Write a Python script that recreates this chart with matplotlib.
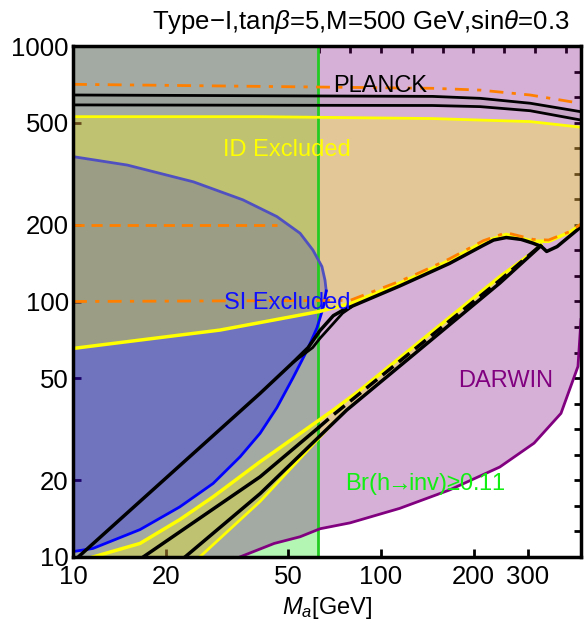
import matplotlib
matplotlib.use("Agg")
import matplotlib.pyplot as plt
import numpy as np

plt.rcParams['font.family'] = ['Liberation Sans', 'DejaVu Sans']
plt.rcParams['mathtext.fontset'] = 'custom'
plt.rcParams['mathtext.rm'] = 'Liberation Sans'
plt.rcParams['mathtext.it'] = 'Liberation Sans:italic'

# --- data (M_a in GeV, M_chi in GeV) ---
mh_half = 62.5

# DARWIN lower edge
darwin_x = [10, 34.8, 45, 54.6, 63.4, 79.3, 115, 167, 243, 314, 384, 436, 446]
darwin_y = [10, 10, 11.3, 12.0, 12.9, 13.6, 15.5, 18.3, 22.5, 27.9, 36.5, 55.7, 85]

# SI excluded region: upper arc and lower edge
si_up_x = [10, 15, 24.6, 35.6, 45.9, 54.6, 60.1, 64.3, 65.8, 66.4]
si_up_y = [369, 342, 294, 250, 215, 185, 159, 137, 121, 110]
si_lo_x = [66.4, 64.9, 62, 57.5, 51.8, 45.9, 40.5, 34.9, 28.5, 22.2, 16.5, 11.6, 10]
si_lo_y = [110, 94.6, 79, 64.3, 50.3, 38.4, 30.5, 24.7, 19.4, 15.7, 12.8, 10.8, 10.5]

# ID excluded region (upper part)
id_top_x = [10, 40.5, 147, 210, 305, 446]
id_top_y = [529, 529, 520, 513, 506, 481]
id_low_x = [10, 30, 63.4, 80, 115, 134, 167, 215, 255, 312, 350, 411, 446]
id_low_y = [65.5, 77.3, 91.5, 98.5, 118, 128, 145, 171, 183, 172, 172, 187, 200]

# ID excluded narrow band along the diagonal
band_a_x = [11.6, 16.5, 22.2, 28.5, 40.5, 70, 85.5, 243, 314, 330]
band_a_y = [10, 11.3, 14, 17.2, 23.6, 37.6, 45, 125, 157, 167]
band_b_x = [16.9, 40.5, 62.5]
band_b_y = [10, 20.6, 32]
band_b2_x = [62.5, 70, 243, 330]
band_b2_y = [32, 36, 121, 166]
band_c_x = [23.1, 40.5, 77.4, 243, 330]
band_c_y = [10, 17.7, 37.6, 118, 165]
band_d_x = [25.8, 40.5, 70]
band_d_y = [10, 16.5, 33.5]

# relic (black) curve and the second branch of the lens
relic_x = [10.4, 40.5, 52, 58, 63.4, 70, 75.4, 80, 115, 134, 167, 215, 232, 255, 285, 312, 332, 345, 373, 446]
relic_y = [10, 43.7, 58, 66, 77, 88, 92.6, 95.5, 115, 125, 141, 166, 174, 178, 175, 169, 164, 157, 164, 196]
lens_x = [52, 60, 63.4, 70, 75, 80]
lens_y = [58, 66, 71.8, 82, 90, 95]

# PLANCK band
planck_x = [10, 147, 210, 305, 446]
planck_hi = [643, 635, 624, 597, 553]
planck_lo = [588, 585, 579, 558, 513]

# orange dash-dot / dashed lines
or_top_x = [10, 147, 210, 305, 432, 446]
or_top_y = [708, 683, 672, 643, 600, 597]
or_200_x = [10, 45.8]
or_200_y = [200, 200]
or_mid_x = [10, 79.3, 115, 134, 167, 215, 255, 312, 350, 411, 446]
or_mid_y = [100, 101, 120, 130, 147, 173, 186, 175, 174, 188, 201]

fig = plt.figure(figsize=(5.85, 6.33), dpi=100)
ax = fig.add_axes([73/585, (633-557)/633, (581-73)/585, (557-46)/633])
ax.set_xscale('log')
ax.set_yscale('log')
ax.set_xlim(10, 446)
ax.set_ylim(10, 1000)

# fills
ax.axvspan(10, mh_half, color='#b3f5b3', zorder=1, lw=0)
ax.fill_between(darwin_x, darwin_y, 1000, color='#800080', alpha=0.31, lw=0, zorder=2)
ax.fill(si_up_x + si_lo_x, si_up_y + si_lo_y, color='#0000ff', alpha=0.31, lw=0, zorder=3)
ax.fill(id_top_x + id_low_x[::-1], id_top_y + id_low_y[::-1], color='#ffff00', alpha=0.3, lw=0, zorder=4)
ax.fill(band_a_x + band_c_x[::-1][:3] + band_d_x[::-1],
        band_a_y + band_c_y[::-1][:3] + band_d_y[::-1],
        color='#ffff00', alpha=0.3, lw=0, zorder=4)
ax.fill_between(planck_x, planck_lo, planck_hi, color='#606060', alpha=0.12, lw=0, zorder=4)

# lines
ax.axvline(mh_half, color='#22cc22', lw=2, zorder=6)
ax.plot(darwin_x[1:], darwin_y[1:], color='#800080', lw=2, zorder=6)
ax.plot(si_up_x, si_up_y, color='#5050c0', lw=2, zorder=6)
ax.plot(si_lo_x, si_lo_y, color='#0000ff', lw=2, zorder=6)
ax.plot(id_top_x, id_top_y, color='#ffff00', lw=2, zorder=6)
ax.plot(id_low_x, id_low_y, color='#ffff00', lw=2.5, zorder=6)
ax.plot(band_a_x, band_a_y, color='#ffff00', lw=2.5, zorder=6)
ax.plot(band_d_x, band_d_y, color='#ffff00', lw=2, zorder=6)
ax.plot(band_b_x, band_b_y, color='black', lw=2.5, zorder=7)
ax.plot(band_b2_x, band_b2_y, color='black', lw=2.5, ls=(0, (4, 2)), zorder=7)
ax.plot(band_c_x, band_c_y, color='black', lw=2.5, zorder=7)
ax.plot(relic_x, relic_y, color='black', lw=2.5, zorder=7)
ax.plot(lens_x, lens_y, color='black', lw=2, zorder=7)
ax.plot(planck_x, planck_hi, color='black', lw=2, zorder=7)
ax.plot(planck_x, planck_lo, color='black', lw=2, zorder=7)
ax.plot(or_top_x, or_top_y, color='#ff8000', lw=2, ls=(0, (5, 3, 1.5, 3)), zorder=8)
ax.plot(or_200_x, or_200_y, color='#ff8000', lw=2, ls=(0, (4, 2.5)), zorder=8)
ax.plot(or_mid_x, or_mid_y, color='#ff8000', lw=2, ls=(0, (5, 3, 1.5, 3)), zorder=8)

# labels inside
ax.text(99, 697, 'PLANCK', color='black', fontsize=17, ha='center', va='center', zorder=9)
ax.text(49.5, 392, 'ID Excluded', color='#ffff00', fontsize=17, ha='center', va='center', zorder=9)
ax.text(49.5, 98.6, 'SI Excluded', color='#1010ff', fontsize=17, ha='center', va='center', zorder=9)
ax.text(253, 48.9, 'DARWIN', color='#800080', fontsize=17, ha='center', va='center', zorder=9)
ax.text(139, 19.3, 'Br(h$\\!\\!\\rightarrow\\!\\!$inv)\u22650.11', color='#11ee11', fontsize=17,
        ha='center', va='center', zorder=9)

# ticks
ax.set_xticks([10, 20, 50, 100, 200, 300])
ax.set_xticklabels(['10', '20', '50', '100', '200', '300'])
ax.set_yticks([10, 20, 50, 100, 200, 500, 1000])
ax.set_yticklabels(['10', '20', '50', '100', '200', '500', '1000'])
ax.minorticks_off()
ax.tick_params(direction='in', length=6, width=2, labelsize=18.5, pad=3)
ax.tick_params(axis='x', pad=6)
for s in ax.spines.values():
    s.set_linewidth(2.5)
    s.set_zorder(10)

top = ax.secondary_xaxis('top')
top.set_xticks(10 ** np.arange(1.1, 2.65, 0.1))
top.set_xticklabels([])
top.tick_params(direction='in', length=5, width=2)
top.minorticks_off()
right = ax.secondary_yaxis('right')
right.set_yticks(10 ** np.arange(1.1, 3.0, 0.1))
right.set_yticklabels([])
right.tick_params(direction='in', length=5, width=2)
right.minorticks_off()

ax.set_xlabel('$M_a$[GeV]', fontsize=17, labelpad=4)
ax.set_ylabel('$M_\\chi$[GeV]', fontsize=17)
ax.yaxis.set_label_coords(-0.165, 0.45)

fig.text(361/585, 1 - 22/633, 'Type\u2212I,tan$\\beta$=5,M=500 GeV,sin$\\theta$=0.3',
         fontsize=18.5, ha='center', va='center')

fig.savefig('out.png', dpi=100)
